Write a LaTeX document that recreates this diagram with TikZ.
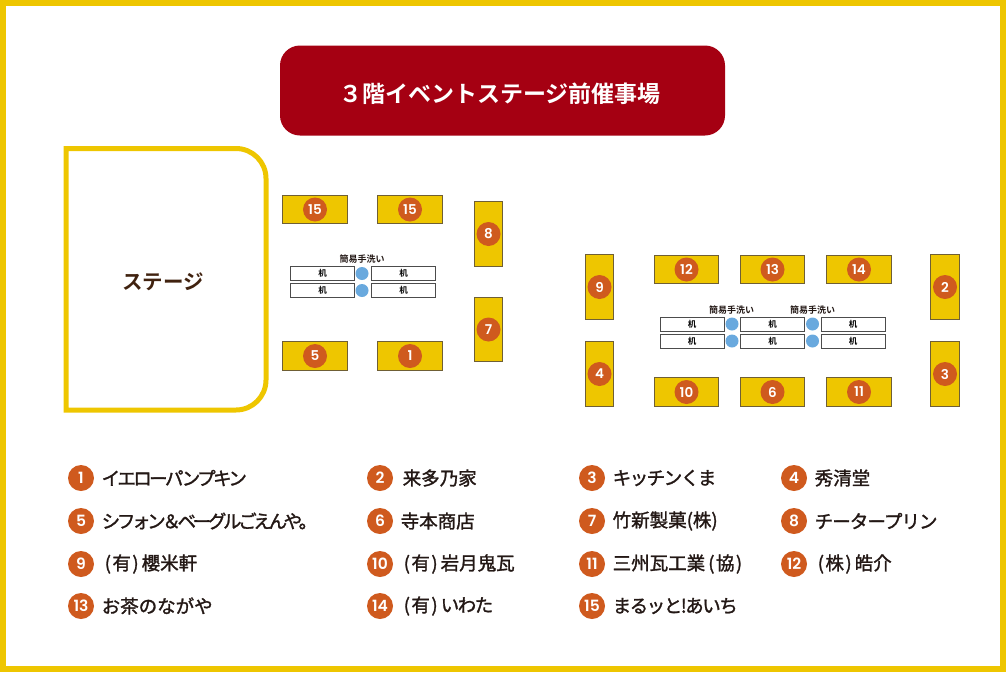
\documentclass[tikz,border=0pt]{standalone}
\usepackage{fontspec}
\usepackage{xcolor}
\setmainfont{Noto Sans CJK JP}[BoldFont={* Bold}]
\newfontfamily\legendfont{Noto Sans CJK JP}[FakeBold=1.5]
\newfontfamily\numfont{Poppins}[BoldFont={* SemiBold}]
\definecolor{frameyellow}{HTML}{EEC600}
\definecolor{titlered}{HTML}{A50012}
\definecolor{badgeorange}{HTML}{CF5A1E}
\definecolor{sinkblue}{HTML}{69A9DE}
\definecolor{darktext}{HTML}{231815}
\definecolor{stagetext}{HTML}{40220F}
\definecolor{boothline}{HTML}{6F5F35}
\newcommand{\px}[1]{\fontsize{#1}{#1}\selectfont}
\newcommand{\tightkana}[2]{{\addfontfeature{LetterSpace=#1}#2}}
\newcommand{\company}[1]{\hspace{3pt}(\hspace{1.5pt}#1\hspace{1.5pt})\hspace{3pt}}
\tikzset{
	booth/.style={draw=boothline,line width=1pt,fill=frameyellow,inner sep=0pt,minimum width=64.5pt,minimum height=28.5pt},
	boothtall/.style={booth,minimum width=28.5pt,minimum height=64.5pt},
	badge/.style={circle,fill=badgeorange,text=white,inner sep=0pt,minimum size=24pt,font=\numfont\bfseries\px{13.5}},
	legendbadge/.style={badge,minimum size=26pt,font=\numfont\bfseries\px{15.5}},
	desk/.style={draw=black!70,line width=1pt,fill=white,inner sep=0pt,minimum width=64pt,minimum height=14pt,font=\bfseries\px{8.5}},
	sink/.style={circle,fill=sinkblue,inner sep=0pt,minimum size=13pt},
	sinklabel/.style={text=darktext,inner sep=0pt,font=\bfseries\px{9}},
	legendtext/.style={right,text=darktext,inner sep=0pt,font=\legendfont\px{18.5}}
}
\begin{document}
\begin{tikzpicture}[x=1pt,y=-1pt]
	\useasboundingbox (0,0) rectangle (1006,672);
	\draw[frameyellow,line width=6pt] (3,3) rectangle (1003,669);
	
	% title and stage
	\node[fill=titlered,rounded corners=20pt,minimum width=445pt,minimum height=90pt,inner sep=0pt] (titlebox) at (502.5,90.5) {};
	\node[text=white,inner sep=0pt,font=\bfseries\px{23}] (title) at (500,94) {３階イベントステージ前催事場};
	\draw[frameyellow,line width=5pt] (66,148.5) -- (236,148.5) arc[start angle=-90,end angle=0,radius=30] -- (266,380) arc[start angle=0,end angle=90,radius=30] -- (66,410) -- cycle;
	\node[text=stagetext,font=\bfseries\px{20.5}] (stage) at (163,282) {ステージ};
	
	% wide booths
	\foreach \n/\x/\y/\t in {a/315/209.5/15,b/410/209.5/15,c/315/356/5,d/410/356/1,e/686.5/269.5/12,f/772.5/269.5/13,g/859/269.5/14,h/686.5/392/10,i/772.5/392/6,j/859/392/11}{
		\node[booth] (booth\n) at (\x,\y) {};
		\node[badge] (badge\n) at (booth\n) {\t};
	}
	% tall booths
	\foreach \n/\x/\y/\t in {k/488.5/234/8,l/488.5/329.5/7,m/599.5/287/9,n/599.5/374/4,o/945/287/2,p/945/374/3}{
		\node[boothtall] (booth\n) at (\x,\y) {};
		\node[badge] (badge\n) at (booth\n) {\t};
	}
	
	% desks and hand-washing stations
	\foreach \n/\x/\y in {a/322.5/273.5,b/403.5/273.5,c/322.5/290.5,d/403.5/290.5,e/692/324,f/772.5/324,g/853/324,h/692/341,i/772.5/341,j/853/341}{
		\node[desk] (desk\n) at (\x,\y) {机};
	}
	\foreach \n/\x/\y in {a/362/273.5,b/362/290.5,c/732/324,d/812.5/324,e/732/341,f/812.5/341}{
		\node[sink] (sink\n) at (\x,\y) {};
	}
	\foreach \n/\x/\y in {a/362/259,b/731.5/310,c/812.5/310}{
		\node[sinklabel] (sinklabel\n) at (\x,\y) {簡易手洗い};
	}
	
	% legend
	\foreach \n/\x/\y/\t in {
		1/81/478/\tightkana{-14}{イエローパンプキン},
		2/380/478/\hspace{2pt}来多乃家,
		3/592/478/\tightkana{-8}{キッチンくま},
		4/794/478/秀清堂,
		5/81/521/\tightkana{-18}{シフォン＆ベーグルごえんや。},
		6/380/521/寺本商店,
		7/592/521/竹新製菓(株),
		8/794/521/\tightkana{-5}{チータープリン},
		9/81/564/\company{有}櫻米軒,
		10/380/564/\company{有}岩月鬼瓦,
		11/592/564/三州瓦工業\company{協},
		12/794/564/\company{株}皓介,
		13/81/606/お茶のながや,
		14/380/606/\company{有}\tightkana{-8}{いわた},
		15/592/606/\tightkana{-8}{まるッと!あいち}}{
		\node[legendbadge] (legendbadge\n) at (\x,\y) {\n};
		\node[legendtext] (legendtext\n) at ({\x+20.5},\y) {\t};
	}
\end{tikzpicture}
\end{document}
